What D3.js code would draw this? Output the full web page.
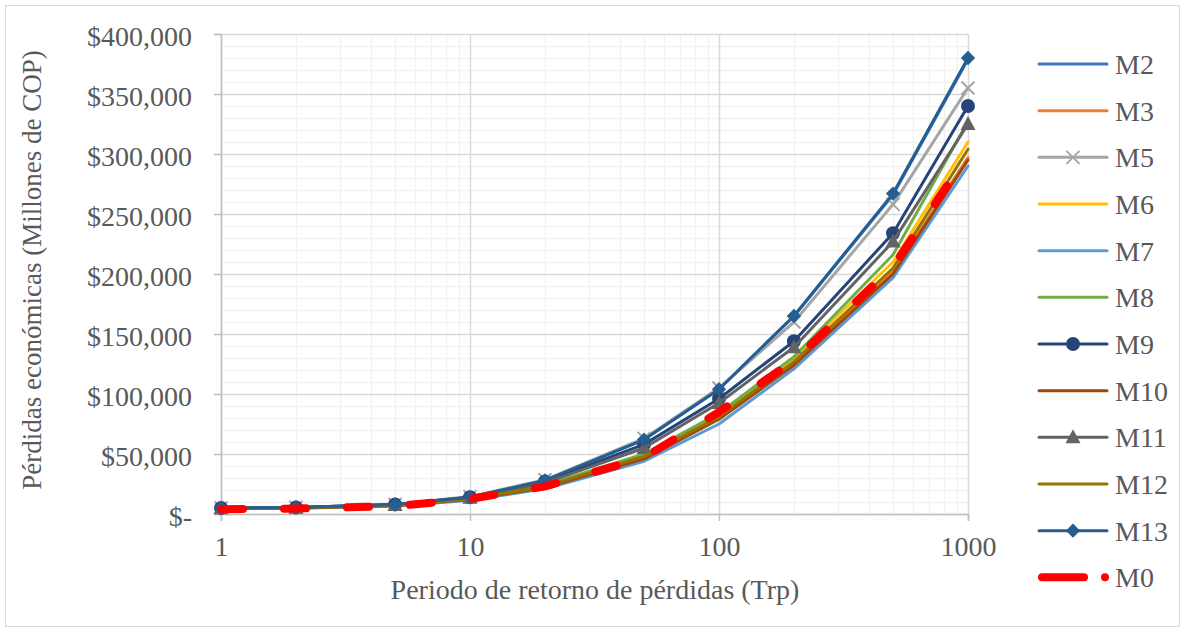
<!DOCTYPE html>
<html>
<head>
<meta charset="utf-8">
<script src="https://cdn.jsdelivr.net/npm/d3@7"></script>
<style>
  html, body { margin: 0; padding: 0; background: #fff; }
  svg { display: block; }
  text { font-family: "Liberation Serif", "Times New Roman", serif; fill: #595959; }
</style>
</head>
<body>
<svg id="chart" width="1185" height="632"></svg>
<script>
// Return periods (years)
const periods = [1, 2, 5, 10, 20, 50, 100, 200, 500, 1000];

// Economic losses per model (millions of COP)
const m2  = [5000, 5500, 8000, 14000, 28000, 62000, 104000, 165000, 266000, 379000];
const m3  = [4500, 5000, 7000, 12000, 22000, 46000, 80000, 125000, 202000, 297000];
const m5  = [5000, 5500, 8000, 14500, 28500, 63000, 105000, 160000, 258000, 355000];
const m6  = [4500, 5000, 7000, 12500, 23000, 48000, 82000, 130000, 210000, 310000];
const m7  = [4300, 4800, 6500, 11500, 21000, 44000, 75000, 121000, 197000, 290000];
const m8  = [4600, 5100, 7200, 12800, 24000, 50000, 84000, 131000, 216000, 327000];
const m9  = [5000, 5500, 8000, 14000, 27000, 58000, 96000, 144000, 234000, 340000];
const m10 = [4500, 5000, 7000, 12000, 22000, 46000, 79000, 124000, 200000, 295000];
const m11 = [4800, 5300, 7600, 13500, 26000, 55000, 92500, 139000, 227000, 325000];
const m12 = [4500, 5000, 7000, 12500, 23000, 48000, 81000, 127000, 205000, 304000];
const m13 = [5000, 5500, 8000, 14000, 28000, 62000, 104000, 165000, 267000, 380000];
const m0  = [4000, 4500, 6500, 12500, 23000, 47000, 85000, 128000, 206000, 300000];

const seriesNames = ["M2", "M3", "M5", "M6", "M7", "M8", "M9", "M10", "M11", "M12", "M13", "M0"];
const seriesValues = [m2, m3, m5, m6, m7, m8, m9, m10, m11, m12, m13, m0];
const seriesColors = ["#4472C4", "#ED7D31", "#A5A5A5", "#FFC000", "#5B9BD5", "#70AD47",
                      "#264478", "#9E480E", "#636363", "#997300", "#255E91", "#FF0000"];
const seriesMarkers = ["none", "none", "x", "none", "none", "none",
                       "circle", "none", "triangle", "none", "diamond", "none"];

const yTicks = [0, 50000, 100000, 150000, 200000, 250000, 300000, 350000, 400000];
const xTicks = [1, 10, 100, 1000];

const svg = d3.select("#chart");
const W = 1185, H = 632;
const FONT = "28px";

// Outer chart frame
svg.append("rect")
  .attr("x", 5.5).attr("y", 5.5)
  .attr("width", W - 11).attr("height", H - 11)
  .attr("fill", "#fff").attr("stroke", "#D9D9D9").attr("stroke-width", 1);

const x = d3.scaleLog().domain([1, 1000]).range([221, 968]);
const y = d3.scaleLinear().domain([0, 400000]).range([514, 34]);

// Gridlines: minor first, major on top
const grid = svg.append("g");
const minorX = [];
for (let d = 1; d < 1000; d *= 10) for (let k = 2; k <= 9; k++) minorX.push(d * k);
const minorY = d3.range(10000, 400000, 10000).filter(v => v % 50000 !== 0);

grid.selectAll(".mx").data(minorX).join("line")
  .attr("x1", d => Math.round(x(d)) + 0.5).attr("x2", d => Math.round(x(d)) + 0.5)
  .attr("y1", y(400000)).attr("y2", y(0))
  .attr("stroke", "#F2F2F2").attr("stroke-width", 1.5);
grid.selectAll(".my").data(minorY).join("line")
  .attr("x1", x(1)).attr("x2", x(1000))
  .attr("y1", d => Math.round(y(d)) + 0.5).attr("y2", d => Math.round(y(d)) + 0.5)
  .attr("stroke", "#F2F2F2").attr("stroke-width", 1.5);
grid.selectAll(".Mx").data(xTicks).join("line")
  .attr("x1", d => Math.round(x(d)) + 0.5).attr("x2", d => Math.round(x(d)) + 0.5)
  .attr("y1", y(400000)).attr("y2", y(0))
  .attr("stroke", "#D9D9D9").attr("stroke-width", 1.5);
grid.selectAll(".My").data(yTicks).join("line")
  .attr("x1", x(1)).attr("x2", x(1000))
  .attr("y1", d => Math.round(y(d)) + 0.5).attr("y2", d => Math.round(y(d)) + 0.5)
  .attr("stroke", "#D9D9D9").attr("stroke-width", 1.5);

// Axes
const fmt = d3.format(",");
const yAxis = d3.axisLeft(y).tickValues(yTicks).tickSize(7).tickPadding(22)
  .tickFormat(v => v === 0 ? "$-" : "$" + fmt(v));
const xAxis = d3.axisBottom(x).tickValues(xTicks).tickSize(7).tickPadding(15)
  .tickFormat(d3.format("d"));

const gy = svg.append("g").attr("transform", `translate(${x(1)},0)`).call(yAxis);
const gx = svg.append("g").attr("transform", `translate(0,${y(0)})`).call(xAxis);
[gx, gy].forEach(g => {
  g.select(".domain").attr("stroke", "#BFBFBF").attr("stroke-width", 1.5);
  g.selectAll(".tick line").attr("stroke", "#BFBFBF").attr("stroke-width", 1.5);
  g.selectAll(".tick text")
    .style("font-family", '"Liberation Serif", "Times New Roman", serif')
    .style("font-size", FONT).attr("fill", "#595959");
});
gy.selectAll(".tick text").attr("dy", "0.42em");

// Axis titles
svg.append("text")
  .attr("x", 595).attr("y", 599)
  .attr("text-anchor", "middle").style("font-size", FONT)
  .text("Periodo de retorno de pérdidas (Trp)");
svg.append("text")
  .attr("transform", "translate(41,270) rotate(-90)")
  .attr("text-anchor", "middle").style("font-size", "27px")
  .text("Pérdidas económicas (Millones de COP)");

// Marker drawing
function drawMarker(g, type, color, cx, cy) {
  if (type === "circle") {
    g.append("circle").attr("cx", cx).attr("cy", cy).attr("r", 7).attr("fill", color);
  } else if (type === "diamond") {
    g.append("path").attr("d", d3.symbol(d3.symbolDiamond2, 130)())
      .attr("transform", `translate(${cx},${cy})`).attr("fill", color);
  } else if (type === "triangle") {
    g.append("path").attr("d", `M${cx},${cy - 8}L${cx + 7.5},${cy + 6}L${cx - 7.5},${cy + 6}Z`)
      .attr("fill", color);
  } else if (type === "x") {
    const s = 6.5;
    g.append("path").attr("d", `M${cx - s},${cy - s}L${cx + s},${cy + s}M${cx - s},${cy + s}L${cx + s},${cy - s}`)
      .attr("stroke", color).attr("stroke-width", 2).attr("fill", "none");
  }
}

// Series lines
const line = d3.line().x(d => x(d[0])).y(d => y(d[1]));
const plot = svg.append("g");
seriesNames.forEach((name, i) => {
  const pts = periods.map((p, j) => [p, seriesValues[i][j]]);
  const g = plot.append("g");
  const isRef = name === "M0";
  g.append("path").datum(pts)
    .attr("d", line)
    .attr("fill", "none")
    .attr("stroke", seriesColors[i])
    .attr("stroke-width", isRef ? 8 : 3)
    .attr("stroke-linejoin", "round")
    .attr("stroke-linecap", "round")
    .attr("stroke-dasharray", isRef ? "22,41" : null);
  if (seriesMarkers[i] !== "none") {
    pts.forEach(d => drawMarker(g, seriesMarkers[i], seriesColors[i], x(d[0]), y(d[1])));
  }
});

// Legend
const legend = svg.append("g");
seriesNames.forEach((name, i) => {
  const ly = 64 + i * 46.67;
  const g = legend.append("g");
  if (name === "M0") {
    g.append("line").attr("x1", 1042).attr("x2", 1084).attr("y1", ly).attr("y2", ly)
      .attr("stroke", seriesColors[i]).attr("stroke-width", 8).attr("stroke-linecap", "round");
    g.append("circle").attr("cx", 1105).attr("cy", ly).attr("r", 4).attr("fill", seriesColors[i]);
  } else {
    g.append("line").attr("x1", 1039).attr("x2", 1107).attr("y1", ly).attr("y2", ly)
      .attr("stroke", seriesColors[i]).attr("stroke-width", 3).attr("stroke-linecap", "round");
    drawMarker(g, seriesMarkers[i], seriesColors[i], 1073, ly);
  }
  g.append("text").attr("x", 1115).attr("y", ly + 10)
    .style("font-size", FONT).text(name);
});
</script>
</body>
</html>
